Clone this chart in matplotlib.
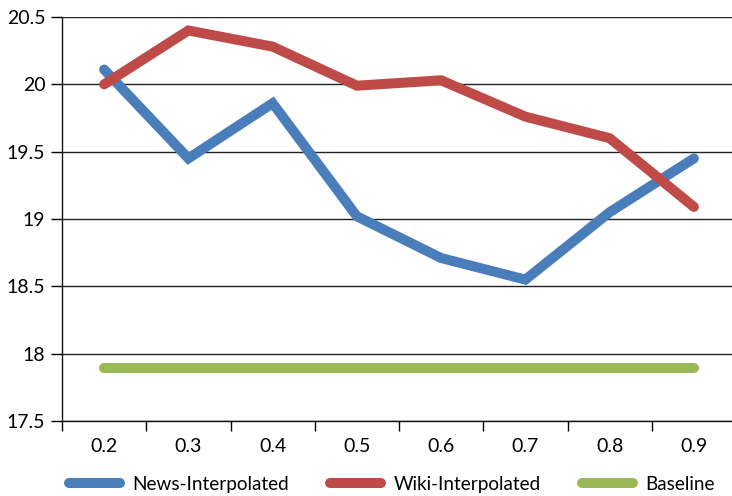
import matplotlib.pyplot as plt
import numpy as np

plt.rcParams['font.family'] = ['Lato', 'DejaVu Sans']

ratios = ['0.2', '0.3', '0.4', '0.5', '0.6', '0.7', '0.8', '0.9']
news = [20.11, 19.45, 19.86, 19.02, 18.71, 18.55, 19.05, 19.45]
wiki = [20.00, 20.40, 20.28, 19.99, 20.03, 19.76, 19.60, 19.09]
baseline = [17.89] * 8

fig = plt.figure(figsize=(7.32, 4.96), dpi=100)
ax = fig.add_axes([62 / 732, 1 - 421 / 496, (736 - 62) / 732, (421 - 17) / 496])

x = np.arange(len(ratios))
lw = 7.2
ax.plot(x, news, color='#4A7EBB', lw=lw, solid_capstyle='round', solid_joinstyle='miter', label='News-Interpolated')
ax.plot(x, wiki, color='#BE4B48', lw=lw, solid_capstyle='round', solid_joinstyle='miter', label='Wiki-Interpolated')
ax.plot(x, baseline, color='#98B954', lw=lw, solid_capstyle='round', label='Baseline')

ax.set_xlim(-0.5, len(ratios) - 0.5)
ax.set_ylim(17.5, 20.5)
ax.set_yticks(np.arange(17.5, 20.51, 0.5))
ax.set_yticklabels(['17.5', '18', '18.5', '19', '19.5', '20', '20.5'])
ax.set_xticks(x)
ax.set_xticklabels(ratios)
ax.set_xticks(np.arange(-0.5, len(ratios), 1.0), minor=True)
ax.tick_params(axis='x', which='major', length=0, pad=12, labelsize=14)
ax.tick_params(axis='x', which='minor', length=7, width=1)
ax.tick_params(axis='y', length=8, width=1, pad=4, labelsize=14)
ax.yaxis.grid(True, color='#222222', lw=1)
ax.set_axisbelow(True)

for side in ['top', 'right']:
    ax.spines[side].set_visible(False)
for side in ['left', 'bottom']:
    ax.spines[side].set_color('#111111')
    ax.spines[side].set_linewidth(1)

fig.legend(loc='lower center', bbox_to_anchor=(0.535, -0.028), ncol=3, frameon=False,
           fontsize=13.6, handlelength=2.7, handletextpad=0.65, columnspacing=2.2)

fig.savefig('out.png', dpi=100)
